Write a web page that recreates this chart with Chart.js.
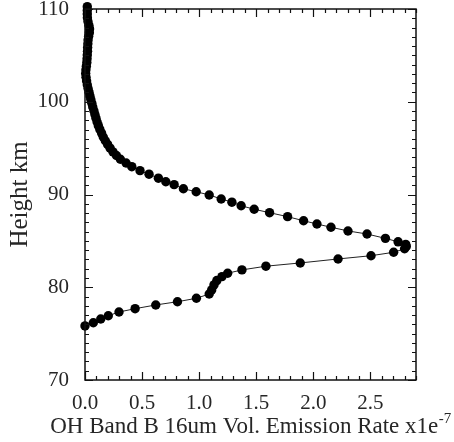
<!DOCTYPE html>
<html>
<head>
<meta charset="utf-8">
<script src="https://cdn.jsdelivr.net/npm/chart.js@4/dist/chart.umd.min.js"></script>
<style>
  html, body { margin: 0; padding: 0; background: #fff; }
  #wrap { width: 454px; height: 442px; }
</style>
</head>
<body>
<div id="wrap"><canvas id="c" width="454" height="442"></canvas></div>
<script>
// Emission rate (x1e-7) read from the profile, bottom of the layer to top
const emission = [
  0.0, 0.073, 0.138, 0.204, 0.298, 0.439, 0.62, 0.81, 0.976, 1.088,
  1.11, 1.13, 1.155, 1.2, 1.25, 1.375, 1.585, 1.886, 2.217, 2.506,
  2.704, 2.80, 2.815, 2.81, 2.743, 2.632, 2.471, 2.304, 2.155, 2.032,
  1.915, 1.775, 1.617, 1.482, 1.368, 1.287, 1.193, 1.088, 0.974, 0.862,
  0.781, 0.708, 0.643, 0.561, 0.482, 0.41, 0.36, 0.31, 0.275, 0.245,
  0.22, 0.198, 0.178, 0.16, 0.145, 0.13, 0.117, 0.106, 0.096, 0.087,
  0.078, 0.068, 0.06, 0.051, 0.043, 0.035, 0.027, 0.02, 0.014, 0.009,
  0.006, 0.008, 0.012, 0.016, 0.018, 0.02, 0.022, 0.023, 0.025, 0.027,
  0.032, 0.038, 0.04, 0.034, 0.026, 0.021, 0.02, 0.02, 0.02
];
// Height (km) of each point
const height = [
  75.83, 76.17, 76.58, 76.93, 77.33, 77.69, 78.09, 78.44, 78.81, 79.27,
  79.71, 80.25, 80.72, 81.15, 81.51, 81.87, 82.27, 82.62, 83.05, 83.4,
  83.77, 84.15, 84.4, 84.62, 84.9, 85.27, 85.74, 86.07, 86.47, 86.82,
  87.17, 87.61, 88.04, 88.41, 88.79, 89.17, 89.52, 89.95, 90.3, 90.62,
  91.06, 91.38, 91.76, 92.19, 92.57, 93.0, 93.4, 93.8, 94.2, 94.6,
  95.0, 95.4, 95.8, 96.2, 96.62, 97.02, 97.42, 97.82, 98.23, 98.63,
  99.03, 99.43, 99.83, 100.23, 100.63, 101.03, 101.43, 101.83, 102.24, 102.64,
  103.04, 103.44, 103.84, 104.24, 104.64, 105.04, 105.45, 105.85, 106.25, 106.65,
  107.05, 107.45, 107.85, 108.25, 108.65, 109.05, 109.45, 109.85, 110.25
];
const xMajorTicks = [0.0, 0.5, 1.0, 1.5, 2.0, 2.5];
const yMajorTicks = [70, 80, 90, 100, 110];
const xTitleMain = 'OH Band B 16um Vol. Emission Rate x1e';
const xTitleSup = '-7';
const yTitle = 'Height km';

const points = emission.map((v, i) => ({ x: v, y: height[i] }));

const FONT = '"Liberation Serif", "Times New Roman", serif';
const TXT = '#262626';

const framePlugin = {
  id: 'frame',
  afterDatasetsDraw(chart) {
    const { ctx, chartArea: a, scales } = chart;
    const xs = scales.x, ys = scales.y;
    ctx.save();
    ctx.strokeStyle = '#111';
    ctx.lineWidth = 1.5;
    ctx.strokeRect(a.left, a.top, a.right - a.left, a.bottom - a.top);
    ctx.lineWidth = 1.2;
    ctx.beginPath();
    for (let k = 0; k <= 29; k++) {
      const v = k / 10;
      const major = k % 5 === 0;
      const len = major ? 8 : 4;
      const px = Math.round(xs.getPixelForValue(v)) + 0.5;
      ctx.moveTo(px, a.bottom); ctx.lineTo(px, a.bottom - len);
      ctx.moveTo(px, a.top); ctx.lineTo(px, a.top + len);
    }
    for (let v = 70; v <= 110; v++) {
      const major = v % 10 === 0;
      const len = major ? 8 : 4;
      const py = Math.round(ys.getPixelForValue(v)) + 0.5;
      ctx.moveTo(a.left, py); ctx.lineTo(a.left + len, py);
      ctx.moveTo(a.right, py); ctx.lineTo(a.right - len, py);
    }
    ctx.stroke();

    // x axis title with superscript exponent
    const mainFont = '23px ' + FONT;
    const supFont = '15px ' + FONT;
    ctx.font = mainFont;
    const wMain = ctx.measureText(xTitleMain).width;
    ctx.font = supFont;
    const wSup = ctx.measureText(xTitleSup).width;
    const total = wMain + wSup;
    const cx = (a.left + a.right) / 2;
    const x0 = cx - total / 2;
    const base = 433;
    ctx.fillStyle = TXT;
    ctx.textAlign = 'left';
    ctx.textBaseline = 'alphabetic';
    ctx.font = mainFont;
    ctx.fillText(xTitleMain, x0, base);
    ctx.font = supFont;
    ctx.fillText(xTitleSup, x0 + wMain + 0.5, base - 10);
    ctx.restore();
  }
};

new Chart(document.getElementById('c'), {
  type: 'scatter',
  data: {
    datasets: [{
      data: points,
      showLine: true,
      borderColor: '#222',
      borderWidth: 1,
      pointRadius: 4.7,
      pointBorderWidth: 0,
      pointBackgroundColor: '#000',
      pointBorderColor: '#000',
      clip: false,
      tension: 0
    }]
  },
  options: {
    responsive: false,
    animation: false,
    devicePixelRatio: 1,
    layout: { padding: { left: 0, right: 38, top: 9, bottom: 0 } },
    plugins: { legend: { display: false }, tooltip: { enabled: false } },
    scales: {
      x: {
        type: 'linear',
        min: 0, max: 2.9,
        afterFit(s) { s.height = 62; s.paddingLeft = 0; s.paddingRight = 0; },
        afterBuildTicks(s) { s.ticks = xMajorTicks.map(v => ({ value: v })); },
        grid: { display: false },
        border: { display: false },
        ticks: {
          includeBounds: false,
          padding: 3,
          color: TXT,
          font: { family: FONT, size: 21 },
          callback: v => Number(v).toFixed(1)
        },
        title: { display: false }
      },
      y: {
        type: 'linear',
        min: 70, max: 110,
        afterFit(s) { s.width = 85; s.paddingTop = 0; s.paddingBottom = 0; },
        afterBuildTicks(s) { s.ticks = yMajorTicks.map(v => ({ value: v })); },
        grid: { display: false },
        border: { display: false },
        ticks: {
          includeBounds: false,
          padding: 8,
          color: TXT,
          font: { family: FONT, size: 21 },
          callback: v => String(v)
        },
        title: {
          display: true, text: yTitle, color: TXT,
          font: { family: FONT, size: 25 },
          padding: { top: 5, bottom: 0 }
        }
      }
    }
  },
  plugins: [framePlugin]
});
</script>
</body>
</html>
